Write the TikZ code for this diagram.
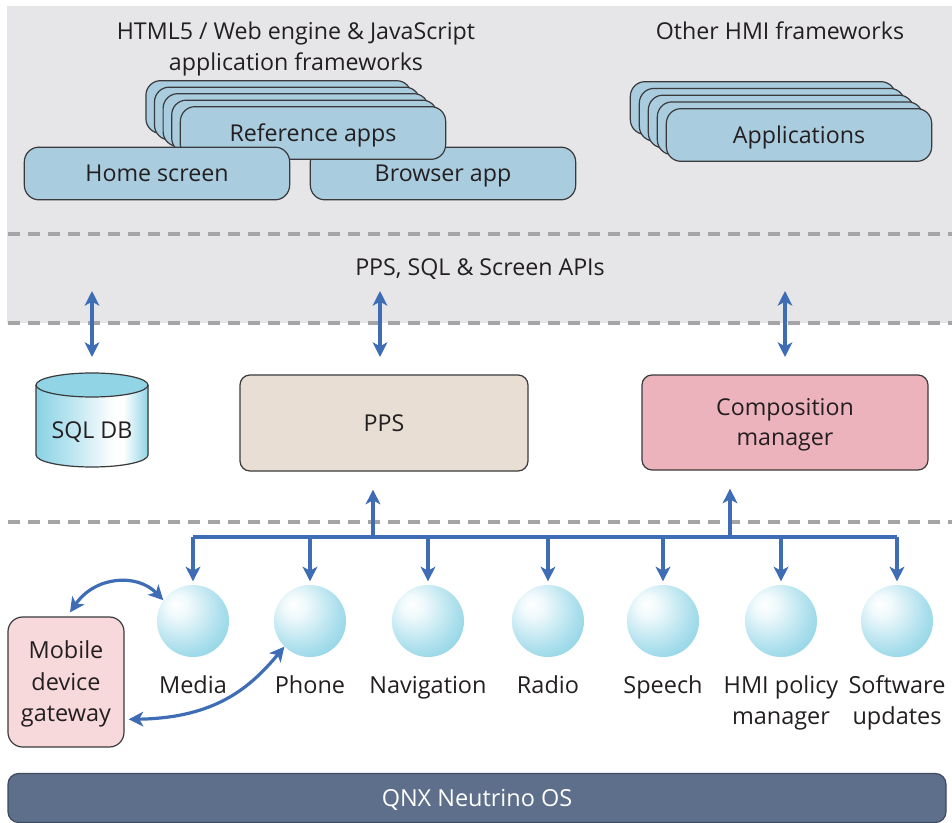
\documentclass[tikz,border=0pt]{standalone}
\usepackage{fontspec}
\setmainfont{Open Sans}
\usetikzlibrary{arrows.meta,calc}
\definecolor{bggray}{HTML}{E6E6E8}
\definecolor{dashgray}{HTML}{A5A5A7}
\definecolor{appblue}{HTML}{A9CCDF}
\definecolor{edgec}{HTML}{3A3A3C}
\definecolor{txt}{HTML}{231F20}
\definecolor{arrowblue}{HTML}{3F6DB5}
\definecolor{ppsfill}{HTML}{E8DED3}
\definecolor{compfill}{HTML}{EDB3BC}
\definecolor{gwfill}{HTML}{F7D9DC}
\definecolor{qnxfill}{HTML}{5D6F8B}
\definecolor{qnxedge}{HTML}{3E4A5E}
\definecolor{sph}{HTML}{7CCDE2}
\pgfdeclareradialshading{sphereshade}{\pgfpoint{-12bp}{12bp}}{color(0bp)=(white); color(8bp)=(sph!12!white); color(28bp)=(sph!65!white); color(44bp)=(sph); color(80bp)=(sph)}
\pgfdeclarehorizontalshading{cylbody}{100bp}{color(0bp)=(sph!90!white); color(25bp)=(sph!90!white); color(45bp)=(sph!40!white); color(60bp)=(white); color(64bp)=(white); color(75bp)=(sph!85!white); color(100bp)=(sph!85!white)}
\tikzset{
  boxfont/.style={font=\fontsize{17.4}{23.25}\selectfont, text=txt, text height=12.4pt, text depth=0pt},
  twolines/.style={text height=35.65pt, text depth=0pt},
  appbox/.style={draw=edgec, fill=appblue, line width=0.9pt, rounded corners=11pt,
     minimum width=199pt, minimum height=39.5pt, inner sep=0pt, boxfont},
  titletext/.style={font=\fontsize{17.4}{23.25}\selectfont, text=txt, align=center, text height=12.4pt, text depth=0pt},
  dashline/.style={draw=dashgray, line width=2.4pt, dash pattern=on 9pt off 6pt},
  blueline/.style={draw=arrowblue, line width=2.4pt},
  tipend/.style={-{Stealth[length=11pt,width=11pt,inset=3pt]}},
  tipboth/.style={{Stealth[length=11pt,width=11pt,inset=3pt]}-{Stealth[length=11pt,width=11pt,inset=3pt]}},
  sphere/.style={circle, minimum size=54pt, inner sep=0pt, shading=sphereshade},
  sphlabel/.style={font=\fontsize{17.6}{23.25}\selectfont, text=txt, align=center, text height=12.5pt, text depth=0pt},
}
\begin{document}
\begin{tikzpicture}[x=0.75pt,y=-0.75pt]
\useasboundingbox (0,0) rectangle (952,823);
\fill[white] (0,0) rectangle (952,823);
% background band
\fill[bggray] (7,6) rectangle (952,323);
\draw[dashline] (8,234) -- (952,234);
\draw[dashline] (8,323) -- (952,323);
\draw[dashline] (8,522) -- (952,522);

% titles
\node[titletext, twolines] (t1) at (296,46.5) {HTML5 / Web engine \& JavaScript\\application frameworks};
\node[titletext] (t2) at (780,31) {Other HMI frameworks};
\node[titletext] (t3) at (480,267) {PPS, SQL \& Screen APIs};

% Browser app (behind reference stack)
\node[appbox] (browser) at (443,173.5) {Browser app};
% Reference apps stack
\foreach \k in {4,3,2,1} {
  \node[appbox] (ref\k) at ({313-8.6*\k},{133-6.5*\k}) {};
}
\node[appbox] (ref) at (313,133) {Reference apps};
% Home screen on top
\node[appbox] (home) at (157,173.5) {Home screen};

% Applications stack
\foreach \k in {4,3,2,1} {
  \node[appbox] (app\k) at ({799-9*\k},{135-6.75*\k}) {};
}
\node[appbox] (apps) at (799,135) {Applications};

% SQL DB cylinder
\fill[shading=cylbody] (36,385) -- (36,455) arc[start angle=180,end angle=360,x radius=42pt,y radius=9pt] -- (148,385) -- cycle;
\fill[sph!85!white] (92,385) ellipse [x radius=42pt, y radius=9pt];
\draw[edgec, line width=0.9pt] (92,385) ellipse [x radius=42pt, y radius=9pt];
\draw[edgec, line width=0.9pt] (36,385) -- (36,455) arc[start angle=180,end angle=360,x radius=42pt,y radius=9pt] -- (148,385);
\node[boxfont] (sql) at (92,430) {SQL DB};

% PPS and Composition manager
\node[draw=edgec, fill=ppsfill, line width=0.9pt, rounded corners=7.5pt,
      minimum width=216pt, minimum height=72pt, boxfont] (pps) at (384,423) {PPS};
\node[draw=edgec, fill=compfill, line width=0.9pt, rounded corners=7.5pt,
      minimum width=214.5pt, minimum height=71.25pt, boxfont, align=center, text height=34.9pt] (comp) at (785,422.5) {Composition\\[-0.75pt]manager};

% API arrows
\coordinate (a1t) at (92,291);  \coordinate (a1b) at (92,357);
\coordinate (a2t) at (380,291); \coordinate (a2b) at (380,357);
\coordinate (a3t) at (785,291); \coordinate (a3b) at (785,357);
\draw[blueline, tipboth] (a1t) -- (a1b);
\draw[blueline, tipboth] (a2t) -- (a2b);
\draw[blueline, tipboth] (a3t) -- (a3b);

% Spheres and labels
\node[sphere] (s1) at (193,621) {};
\node[sphere] (s2) at (310,621) {};
\node[sphere] (s3) at (428,621) {};
\node[sphere] (s4) at (548,621) {};
\node[sphere] (s5) at (663,621) {};
\node[sphere] (s6) at (781,621) {};
\node[sphere] (s7) at (897,621) {};
\node[sphlabel] (l1) at (193,685) {Media};
\node[sphlabel] (l2) at (310,685) {Phone};
\node[sphlabel] (l3) at (428,685) {Navigation};
\node[sphlabel] (l4) at (548,685) {Radio};
\node[sphlabel] (l5) at (663,685) {Speech};
\node[sphlabel, twolines] (l6) at (781,700.5) {HMI policy\\manager};
\node[sphlabel, twolines] (l7) at (897,700.5) {Software\\updates};

% bus
\coordinate (busL) at (193,537);
\coordinate (busR) at (897,537);
\coordinate (jp) at (373,537);
\coordinate (jc) at (730,537);
\draw[blueline] (busL) -- (busR);
\foreach \s in {s1,s2,s3,s4,s5,s6,s7} {
  \draw[blueline, tipend] (\s.north |- busL) -- ([yshift=2.5pt]\s.north);
}
\path (jp |- pps.south) coordinate (jpt);
\path (jc |- comp.south) coordinate (jct);
\draw[blueline, tipend] (jp) -- ([yshift=-13.5pt]jpt);
\draw[blueline, tipend] (jc) -- ([yshift=-13.5pt]jct);

% Mobile device gateway
\node[draw=edgec, fill=gwfill, line width=0.9pt, rounded corners=11pt,
      minimum width=87pt, minimum height=97.5pt, inner sep=0pt,
      font=\fontsize{17.6}{23.6}\selectfont, text=txt, align=center,
      text height=59.7pt, text depth=0pt] (gw) at (66,682) {Mobile\\device\\gateway};
\draw[blueline, tipboth] ([xshift=3pt,yshift=3pt]gw.north) .. controls (95,576) and (137,573) .. (s1.145);
\draw[blueline, tipboth] ([xshift=3pt,yshift=-28pt]gw.east) .. controls (215,718) and (250,688) .. (s2.225);

% QNX bar
\node[draw=qnxedge, fill=qnxfill, line width=0.9pt, rounded corners=8pt,
      minimum width=703.5pt, minimum height=36.75pt, inner sep=0pt,
      font=\fontsize{17.6}{20}\selectfont, text=white, text height=12.5pt, text depth=0pt] (qnx) at (477,798) {QNX Neutrino OS};
\end{tikzpicture}
\end{document}
